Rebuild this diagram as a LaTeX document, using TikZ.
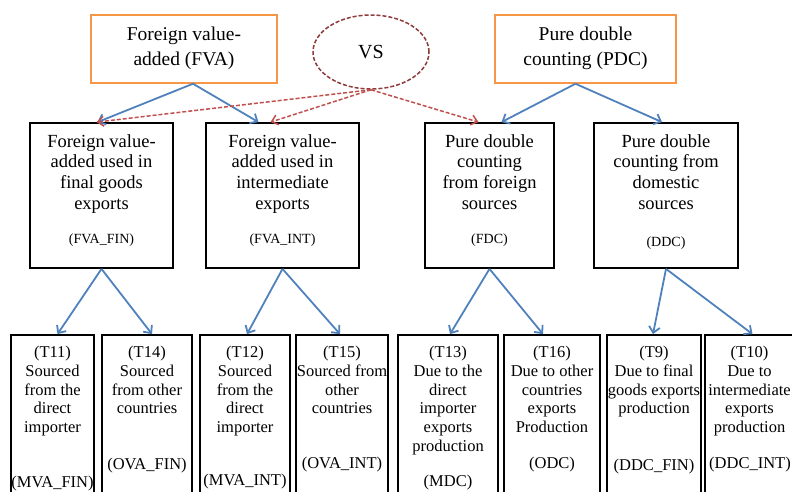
\documentclass[tikz,border=0pt]{standalone}
\usepackage{fontspec}
\setmainfont{Liberation Serif}
\usetikzlibrary{shapes.geometric,arrows.meta}
\definecolor{boxorange}{HTML}{F79646}
\definecolor{arrowblue}{HTML}{4F81BD}
\definecolor{vsred}{HTML}{C0504D}
\definecolor{vsdark}{HTML}{8E3B3B}

\begin{document}
\begin{tikzpicture}[x=1pt,y=-1pt,
	topbox/.style={draw=boxorange, line width=1.5pt, minimum width=#1, minimum height=68pt, inner sep=0pt},
	midbox/.style={draw, line width=1.8pt, minimum width=#1, minimum height=145pt, inner sep=0pt},
	lowbox/.style={draw, line width=1.8pt, minimum width=#1, minimum height=175pt, inner sep=0pt},
	toptext/.style={font=\fontsize{19.5}{25}\selectfont, align=center, inner sep=0pt},
	midtext/.style={font=\fontsize{18.5}{20.7}\selectfont, align=center, anchor=north, inner sep=0pt},
	lowtext/.style={font=\fontsize{16.5}{18.7}\selectfont, align=center, anchor=north, inner sep=0pt},
	midcode/.style={font=\fontsize{14}{16}\selectfont, inner sep=0pt},
	lowcode/.style={font=\fontsize{16.5}{18.7}\selectfont, inner sep=0pt},
	blue arrow/.style={draw=arrowblue, line width=1.8pt, -{Straight Barb[length=6pt,width=11pt]}},
	red arrow/.style={draw=vsred, line width=1.5pt, dash pattern=on 4pt off 2pt, -{Straight Barb[length=6pt,width=10pt]}}]
	
	\useasboundingbox (0,0) rectangle (792,491);
	\clip (0,0) rectangle (792,491);
	
	\node[topbox=186] (fva) at (184,49) {};
	\node[toptext] (fvatxt) at (184,48) {Foreign value-\\added (FVA)};
	\node[topbox=181] (pdc) at (585.5,49) {};
	\node[toptext] (pdctxt) at (585.5,48) {Pure double\\counting (PDC)};
	\node[ellipse, draw=vsdark, line width=1.5pt, dash pattern=on 4pt off 2pt, minimum width=116pt, minimum height=74pt] (vs) at (371,52) {\fontsize{20}{24}\selectfont VS};
	
	\node[midbox=143] (fin) at (101.5,195.5) {};
	\node[midtext] (fintxt) at (101.5,134) {Foreign value-\\added used in\\final goods\\exports};
	\node[midcode] (fincode) at (101.5,240) {(FVA\_FIN)};
	\node[midbox=153] (int) at (282.5,195.5) {};
	\node[midtext] (inttxt) at (282.5,134) {Foreign value-\\added used in\\intermediate\\exports};
	\node[midcode] (intcode) at (282.5,240) {(FVA\_INT)};
	\node[midbox=129] (fdc) at (489.5,195.5) {};
	\node[midtext] (fdctxt) at (489.5,134) {Pure double\\counting\\from foreign\\sources};
	\node[midcode] (fdccode) at (489.5,240) {(FDC)};
	\node[midbox=144] (ddc) at (666,195.5) {};
	\node[midtext] (ddctxt) at (666,134) {Pure double\\counting from\\domestic\\sources};
	\node[midcode] (ddccode) at (666,243) {(DDC)};
	
	\node[lowbox=83] (t11) at (52.5,422.5) {};
	\node[lowtext] (t11txt) at (52.5,346) {(T11)\\Sourced\\from the\\direct\\importer};
	\node[lowcode] (t11code) at (52.5,484) {(MVA\_FIN)};
	\node[lowbox=90] (t14) at (147,422.5) {};
	\node[lowtext] (t14txt) at (147,346) {(T14)\\Sourced\\from other\\countries};
	\node[lowcode] (t14code) at (147,466) {(OVA\_FIN)};
	\node[lowbox=90] (t12) at (245,422.5) {};
	\node[lowtext] (t12txt) at (245,346) {(T12)\\Sourced\\from the\\direct\\importer};
	\node[lowcode] (t12code) at (245,482) {(MVA\_INT)};
	\node[lowbox=92] (t15) at (342,422.5) {};
	\node[lowtext] (t15txt) at (342,346) {(T15)\\Sourced from\\other\\countries};
	\node[lowcode] (t15code) at (342,465) {(OVA\_INT)};
	\node[lowbox=100] (t13) at (448,422.5) {};
	\node[lowtext] (t13txt) at (448,346) {(T13)\\Due to the\\direct\\importer\\exports\\production};
	\node[lowcode] (t13code) at (448,483) {(MDC)};
	\node[lowbox=96] (t16) at (552,422.5) {};
	\node[lowtext] (t16txt) at (552,346) {(T16)\\Due to other\\countries\\exports\\Production};
	\node[lowcode] (t16code) at (552,465) {(ODC)};
	\node[lowbox=94] (t9) at (654,422.5) {};
	\node[lowtext] (t9txt) at (654,346) {(T9)\\Due to final\\goods exports\\production};
	\node[lowcode] (t9code) at (654,467) {(DDC\_FIN)};
	\node[lowbox=95] (t10) at (752.5,422.5) {};
	\node[lowtext] (t10txt) at (749.5,346) {(T10)\\Due to\\intermediate\\exports\\production};
	\node[lowcode] (t10code) at (750,465) {(DDC\_INT)};
	
	\draw[blue arrow] ([xshift=9pt]fva.south) -- ([xshift=-4pt]fin.north);
	\draw[blue arrow] ([xshift=9pt]fva.south) -- ([xshift=-24pt]int.north);
	\draw[blue arrow] ([xshift=-10pt]pdc.south) -- ([xshift=12pt]fdc.north);
	\draw[blue arrow] ([xshift=-10pt]pdc.south) -- ([xshift=-4pt]ddc.north);
	\draw[red arrow] (vs.south) -- ([xshift=-5pt]fin.north);
	\draw[red arrow] (vs.south) -- ([xshift=-12pt]int.north);
	\draw[red arrow] (vs.south) -- ([xshift=-11pt]fdc.north);
	
	\draw[blue arrow] (fin.south) -- ([xshift=5pt]t11.north);
	\draw[blue arrow] (fin.south) -- ([xshift=5pt]t14.north);
	\draw[blue arrow] (int.south) -- ([xshift=2pt]t12.north);
	\draw[blue arrow] (int.south) -- ([xshift=-2pt]t15.north);
	\draw[blue arrow] (fdc.south) -- ([xshift=2pt]t13.north);
	\draw[blue arrow] (fdc.south) -- ([xshift=-9pt]t16.north);
	\draw[blue arrow] (ddc.south) -- ([xshift=-1pt]t9.north);
	\draw[blue arrow] (ddc.south) -- (t10.north);
\end{tikzpicture}
\end{document}
